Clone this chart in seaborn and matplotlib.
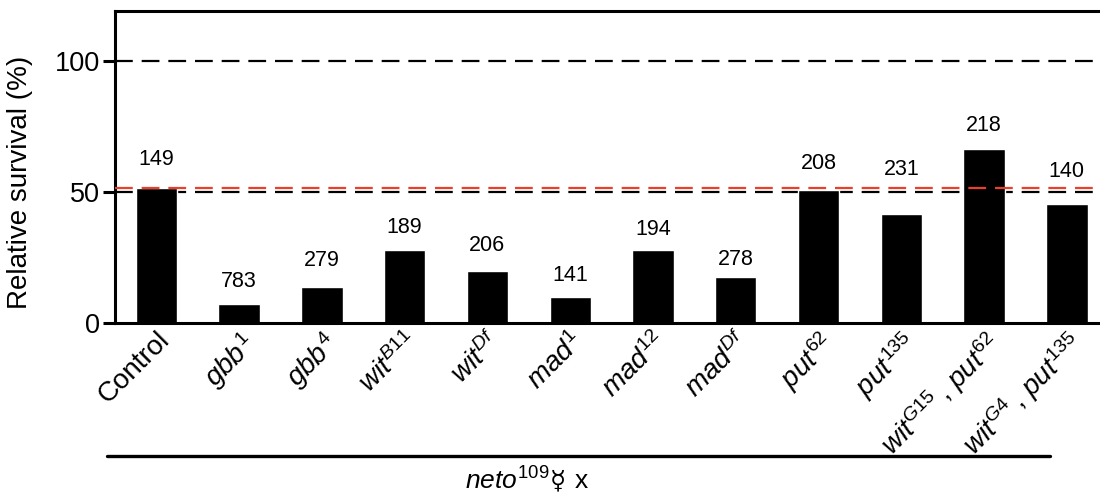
import numpy as np
import pandas as pd
import matplotlib
matplotlib.use("Agg")
import matplotlib.pyplot as plt
import seaborn as sns
from matplotlib.lines import Line2D

# data
genotypes = ["Control", "gbb1", "gbb4", "witB11", "witDf", "mad1", "mad12",
             "madDf", "put62", "put135", "witG15,put62", "witG4,put135"]
tick_labels = [
    r"Control",
    r"$\mathit{gbb}^{\mathit{1}}$",
    r"$\mathit{gbb}^{\mathit{4}}$",
    r"$\mathit{wit}^{\mathit{B11}}$",
    r"$\mathit{wit}^{\mathit{Df}}$",
    r"$\mathit{mad}^{\mathit{1}}$",
    r"$\mathit{mad}^{\mathit{12}}$",
    r"$\mathit{mad}^{\mathit{Df}}$",
    r"$\mathit{put}^{\mathit{62}}$",
    r"$\mathit{put}^{\mathit{135}}$",
    r"$\mathit{wit}^{\mathit{G15}}\,,\,\mathit{put}^{\mathit{62}}$",
    r"$\mathit{wit}^{\mathit{G4}}\,,\,\mathit{put}^{\mathit{135}}$",
]
survival = [51.6, 7.3, 13.7, 27.9, 19.8, 9.9, 27.9, 17.6, 50.8, 41.6, 66.4, 45.4]
n_counts = [149, 783, 279, 189, 206, 141, 194, 278, 208, 231, 218, 140]

# how far each n label sits above its bar (pixels), as placed in the figure
label_gap_px = [28, 22, 27, 22, 26, 22, 20, 17, 26, 44, 23, 32]

df = pd.DataFrame({"genotype": genotypes, "survival": survival, "n": n_counts})

sns.set_theme(style="ticks")
plt.rcParams["font.family"] = ["Liberation Sans", "DejaVu Sans"]
plt.rcParams["mathtext.fontset"] = "custom"
plt.rcParams["mathtext.rm"] = "Liberation Sans"
plt.rcParams["mathtext.it"] = "Liberation Sans:italic"
for key in ["text.color", "axes.labelcolor", "xtick.color", "ytick.color", "axes.edgecolor"]:
    plt.rcParams[key] = "black"

fig = plt.figure(figsize=(11, 4.94), dpi=100)
ax = fig.add_axes([0.1045, 0.346, 0.903, 0.632])

sns.barplot(data=df, x="genotype", y="survival", color="black", width=0.5,
            saturation=1, ax=ax, zorder=2)

# reference lines
ax.axhline(100, color="black", ls=(0, (8, 4)), lw=1.6, zorder=1)
ax.axhline(50, color="black", ls=(0, (8, 4)), lw=1.6, zorder=1)
ax.axhline(survival[0], color="#e8402a", ls=(0, (8, 4)), lw=1.6, zorder=3)

# n above bars
for i, (v, n, gap) in enumerate(zip(survival, n_counts, label_gap_px)):
    ax.annotate(str(n), (i, v), xytext=(0, gap * 0.72), textcoords="offset points",
                ha="center", va="center", fontsize=15.5)

ax.set_ylim(0, 119)
ax.set_xlim(-0.5, 11.5)
ax.set_yticks([0, 50, 100])
ax.tick_params(axis="y", labelsize=19.5, width=2.2, length=9, direction="out", pad=2)
ax.tick_params(axis="x", length=0, pad=3)
ax.set_xticks(range(len(tick_labels)))
ax.set_xticklabels(tick_labels, rotation=45, ha="right", rotation_mode="anchor",
                   fontsize=20)
ax.set_xlabel("")
ax.set_ylabel("Relative survival (%)", fontsize=20)
ax.yaxis.set_label_coords(-0.083, 0.45)
for side in ["left", "bottom", "top", "right"]:
    ax.spines[side].set_linewidth(2.2)

# genotype bracket line and label
fig.add_artist(Line2D([107 / 1100, 1050 / 1100], [1 - 456 / 494, 1 - 456 / 494],
                      color="black", lw=2.4))
fig.text(549 / 1100, 1 - 481 / 494, r"$\mathit{neto}^{\mathit{109}}$",
         ha="right", va="center", fontsize=19)
fig.text(558 / 1100, 1 - 481 / 494, "☿", ha="center", va="center", fontsize=19,
         family="DejaVu Sans")
fig.text(575 / 1100, 1 - 481 / 494, "x", ha="left", va="center", fontsize=19)

fig.savefig("out.png", dpi=100)
